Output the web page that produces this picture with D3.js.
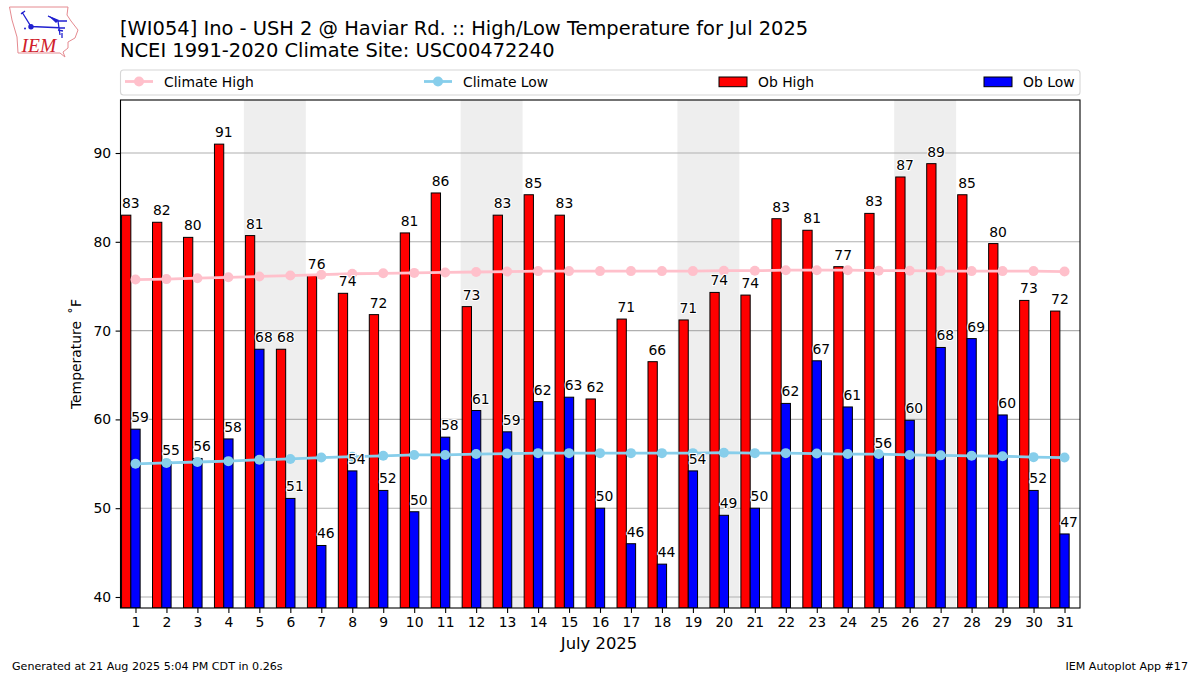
<!DOCTYPE html>
<html><head><meta charset="utf-8">
<script src="https://cdn.jsdelivr.net/npm/d3@7"></script>
<style>html,body{margin:0;padding:0;background:#fff}svg{display:block}text{font-family:"DejaVu Sans",sans-serif;fill:#000}</style>
</head><body><svg id="c" width="1200" height="675"></svg>
<script>
const days = d3.range(1, 32);
const obHigh = [83,82.2,80.5,91,80.7,67.9,76.2,74.2,71.8,81,85.5,72.7,83,85.3,83,62.3,71.3,66.5,71.2,74.3,74,82.6,81.3,77.2,83.2,87.3,88.8,85.3,79.8,73.4,72.2];
const obLow = [58.9,55.2,55.6,57.8,67.9,51.1,45.8,54.2,52,49.6,58,61,58.6,62,62.5,50,46,43.7,54.2,49.2,50,61.8,66.6,61.4,56,59.9,68.1,69.1,60.5,52,47.1];
const highLabels = [83,82,80,91,81,68,76,74,72,81,86,73,83,85,83,62,71,66,71,74,74,83,81,77,83,87,89,85,80,73,72];
const lowLabels = [59,55,56,58,68,51,46,54,52,50,58,61,59,62,63,50,46,44,54,49,50,62,67,61,56,60,68,69,60,52,47];
const climHigh = [75.75,75.8,75.9,76,76.1,76.2,76.3,76.4,76.45,76.5,76.55,76.6,76.65,76.7,76.7,76.7,76.7,76.7,76.7,76.75,76.75,76.8,76.8,76.8,76.75,76.75,76.7,76.7,76.7,76.7,76.65];
const climLow = [55,55.1,55.2,55.3,55.45,55.55,55.7,55.8,55.9,56,56,56.1,56.15,56.2,56.2,56.2,56.2,56.2,56.2,56.25,56.2,56.2,56.15,56.1,56.1,56,55.95,55.9,55.85,55.75,55.7];
const weekendStarts = [5,12,19,26];
const yTicks = [40,50,60,70,80,90];
const legendItems = ["Climate High","Climate Low","Ob High","Ob Low"];

const svg = d3.select("#c");
const L=120.5,R=1080,T=100,B=608;
const x = d3.scaleLinear().domain([0.5,31.5]).range([120,1080]);
const y = d3.scaleLinear().domain([38.76,95.97]).range([B,T]);
const bw = x(0.3)-x(0);

const clipId="plot";
svg.append("clipPath").attr("id",clipId).append("rect").attr("x",L).attr("y",T).attr("width",R-L).attr("height",B-T);
const g = svg.append("g").attr("clip-path",`url(#${clipId})`);

g.selectAll("rect.wk").data(weekendStarts).join("rect").attr("class","wk")
 .attr("x",d=>x(d-0.5)).attr("width",d=>x(d+1.5)-x(d-0.5)).attr("y",T).attr("height",B-T).attr("fill","#eeeeee");
g.selectAll("line.gr").data(yTicks).join("line").attr("class","gr")
 .attr("x1",L).attr("x2",R).attr("y1",d=>y(d)).attr("y2",d=>y(d)).attr("stroke","#b0b0b0").attr("stroke-width",1.1);

g.selectAll("rect.hi").data(days).join("rect").attr("class","hi")
 .attr("x",d=>x(d-0.45)).attr("width",bw).attr("y",d=>y(obHigh[d-1])).attr("height",d=>B-y(obHigh[d-1]))
 .attr("fill","#ff0000").attr("stroke","#000").attr("stroke-width",1);
g.selectAll("rect.lo").data(days).join("rect").attr("class","lo")
 .attr("x",d=>x(d-0.15)).attr("width",bw).attr("y",d=>y(obLow[d-1])).attr("height",d=>B-y(obLow[d-1]))
 .attr("fill","#0000ff").attr("stroke","#000").attr("stroke-width",1);

const line = a => d3.line().x(d=>x(d)).y(d=>y(a[d-1]))(days);
[[climHigh,"#ffc0cb"],[climLow,"#87ceeb"]].forEach(([a,c])=>{
  g.append("path").attr("d",line(a)).attr("fill","none").attr("stroke",c).attr("stroke-width",2.8);
  g.selectAll(null).data(days).join("circle").attr("cx",d=>x(d)).attr("cy",d=>y(a[d-1])).attr("r",5).attr("fill",c);
});

// value labels, with the white halo of the reference
const lab = (vals,labels,dx)=> svg.append("g").selectAll("text").data(days).join("text")
  .attr("x",d=>x(d)+dx).attr("y",d=>y(vals[d-1])-7).attr("text-anchor","middle")
  .style("font-size","13.9px").style("stroke","#fff").style("stroke-width","2.2px").style("paint-order","stroke").style("stroke-linejoin","round")
  .text(d=>labels[d-1]);
lab(obHigh,highLabels,-4.6);
lab(obLow,lowLabels,4.6);

// spines
svg.append("rect").attr("x",L).attr("y",T).attr("width",R-L).attr("height",B-T).attr("fill","none").attr("stroke","#000").attr("stroke-width",1.1);

// axes
const xa = svg.append("g").attr("transform",`translate(0,${B})`).call(d3.axisBottom(x).tickValues(days).tickFormat(d3.format("d")).tickSize(4.9).tickPadding(4.5));
const ya = svg.append("g").attr("transform",`translate(${L},0)`).call(d3.axisLeft(y).tickValues(yTicks).tickSize(4.9).tickPadding(4.5));
[xa,ya].forEach(a=>{a.select(".domain").remove();a.selectAll("line").attr("stroke","#000").attr("stroke-width",1.1);
  a.selectAll("text").style("font-size","13.9px").style("font-family",'"DejaVu Sans"');});

// titles
svg.append("text").attr("x",120).attr("y",35).style("font-size","19.45px").text("[WI054] Ino - USH 2 @ Haviar Rd. :: High/Low Temperature for Jul 2025");
svg.append("text").attr("x",120).attr("y",57).style("font-size","19.45px").text("NCEI 1991-2020 Climate Site: USC00472240");
svg.append("text").attr("x",599).attr("y",649).attr("text-anchor","middle").style("font-size","16.4px").text("July 2025");
svg.append("text").attr("transform","translate(81,354) rotate(-90)").attr("text-anchor","middle").style("font-size","13.9px").style("white-space","pre").text("Temperature\u2009 ˚F");
svg.append("text").attr("x",12).attr("y",670).style("font-size","11.1px").text("Generated at 21 Aug 2025 5:04 PM CDT in 0.26s");
svg.append("text").attr("x",1188).attr("y",670).attr("text-anchor","end").style("font-size","11.1px").text("IEM Autoplot App #17");

// legend
const lg = svg.append("g");
lg.append("rect").attr("x",L).attr("y",70).attr("width",R-L).attr("height",25).attr("rx",3).attr("fill","#fff").attr("stroke","#d6d6d6").attr("stroke-width",1.1);
const itemX=[[125,153],[424,452],[719,747],[984,1012]], cols=["#ffc0cb","#87ceeb","#ff0000","#0000ff"];
legendItems.forEach((t,i)=>{
  const [a,b]=itemX[i];
  if(i<2){
    lg.append("line").attr("x1",a).attr("x2",b).attr("y1",81.5).attr("y2",81.5).attr("stroke",cols[i]).attr("stroke-width",2.8);
    lg.append("circle").attr("cx",(a+b)/2).attr("cy",81.5).attr("r",5).attr("fill",cols[i]);
  } else {
    lg.append("rect").attr("x",a).attr("y",77).attr("width",b-a).attr("height",9.7).attr("fill",cols[i]).attr("stroke","#000").attr("stroke-width",1);
  }
  lg.append("text").attr("x",b+11).attr("y",86.5).style("font-size","13.9px").text(t);
});

// logo
const logo = svg.append("g");
logo.append("path").attr("d","M9.5 7 L68 7 L67 15 L71 21 L78 30 L75 38 L68 42 L68 48 L63 52 L65 57 L60 53 L18 53 L17 37 L12 20 Z").attr("fill","#fff").attr("stroke","#e58a90").attr("stroke-width",1);
logo.append("path").attr("d","M22 12 L31 26.5 L65 28 M21 14 L25 11 M48 16 L58 21 L67 21 M58 21 L60 35 M58 30 L63 31 M62 33 L62 38").attr("fill","none").attr("stroke","#2020d0").attr("stroke-width",1.3);
logo.append("circle").attr("cx",31).attr("cy",26.7).attr("r",2.7).attr("fill","#2020d0");
logo.append("path").attr("d","M48 15.5 L59 20 L56 23 Z").attr("fill","#2020d0");
logo.append("circle").attr("cx",25).attr("cy",28.5).attr("r",1).attr("fill","#2020d0");
logo.append("text").attr("x",21.5).attr("y",52).style("font-family",'"Liberation Serif",serif').style("font-style","italic").style("font-size","19.5px").style("fill","#d0202a").text("IEM");
</script></body></html>
